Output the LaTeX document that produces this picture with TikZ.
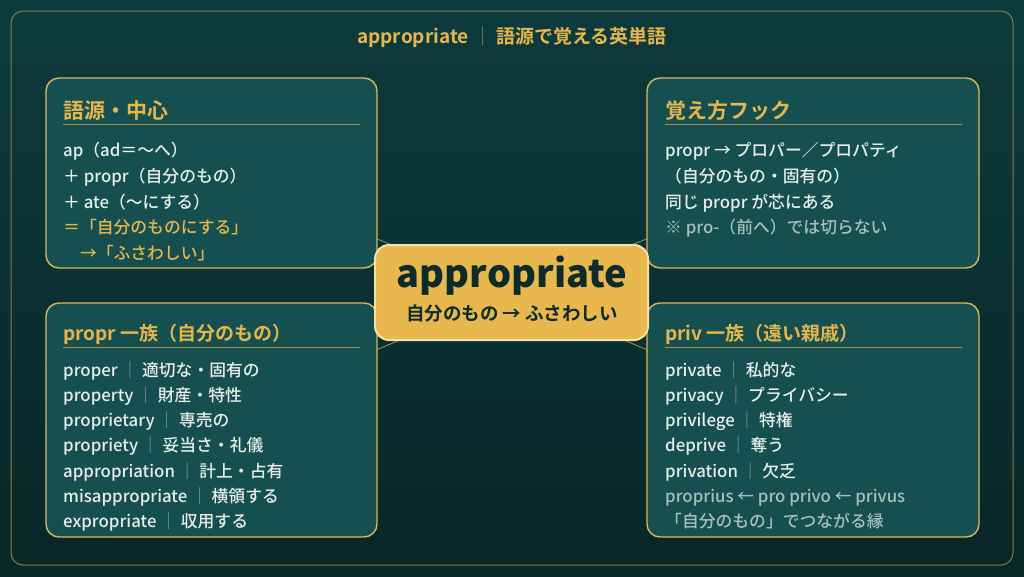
\documentclass[tikz,border=0pt]{standalone}
\usepackage{fontspec}
\setmainfont{Noto Sans CJK JP}[UprightFont={* Medium}, BoldFont={* Bold}]
\newfontfamily\blackfont{Noto Sans CJK JP Black}
\definecolor{bgtop}{HTML}{0D3B3D}
\definecolor{bgbot}{HTML}{092628}
\definecolor{boxfill}{HTML}{164F50}
\definecolor{gold}{HTML}{E6B64C}
\definecolor{goldline}{HTML}{A48F4F}
\definecolor{framecol}{HTML}{8C7B48}
\definecolor{boxborder}{HTML}{D9B75C}
\definecolor{textw}{HTML}{E8EEE9}
\definecolor{faded}{HTML}{A8C0BB}
\definecolor{sepcol}{HTML}{7F9A96}
\definecolor{cfill}{HTML}{E8B74D}
\definecolor{cborder}{HTML}{F5E2A8}
\definecolor{ctext}{HTML}{0E2B2B}
\newcommand{\sepbar}{\textcolor{sepcol}{｜}}
\begin{document}
\begin{tikzpicture}[x=1pt,y=-1pt,
  panel/.style={draw=boxborder, line width=1.4pt, fill=boxfill, rounded corners=13pt},
  headtxt/.style={anchor=base west, inner sep=0pt, text=gold, font=\fontsize{21}{21}\selectfont\bfseries},
  headsmall/.style={headtxt, font=\fontsize{19}{19}\selectfont\bfseries},
  bodytxt/.style={anchor=base west, inner sep=0pt, text=textw, font=\fontsize{16.8}{16.8}\selectfont},
  goldtxt/.style={bodytxt, text=gold},
  fadetxt/.style={bodytxt, text=faded},
  hrule/.style={draw=goldline, line width=0.8pt},
  conn/.style={draw=goldline, line width=0.8pt}
]
\useasboundingbox (0,0) rectangle (1024,576);
\shade[top color=bgtop, bottom color=bgbot] (0,0) rectangle (1024,576);
\draw[framecol, line width=1pt, rounded corners=12pt] (11,11) rectangle (1013,565);

% title
\node[anchor=base, inner sep=0pt, text=gold, font=\fontsize{19}{19}\selectfont\bfseries] (title) at (512,43)
  {appropriate \textcolor{framecol}{\mdseries｜} 語源で覚える英単語};

% connector end points
\coordinate (ctr) at (511.5,292.5);
\coordinate (tlc) at (211.5,173);
\coordinate (trc) at (813,173);
\coordinate (blc) at (211.5,420);
\coordinate (brc) at (813,420);
\draw[conn] (ctr) -- (tlc);
\draw[conn] (ctr) -- (trc);
\draw[conn] (ctr) -- (blc);
\draw[conn] (ctr) -- (brc);

% panels
\draw[panel] (46,78) rectangle (377,268);
\draw[panel] (647,78) rectangle (979,268);
\draw[panel] (46,303) rectangle (377,537);
\draw[panel] (647,303) rectangle (979,537);

% top-left
\node[headtxt] (h1) at (63,118) {語源・中心};
\draw[hrule] (63,124.5) -- (360,124.5);
\node[bodytxt] (a1) at (63,156) {ap（ad＝〜へ）};
\node[bodytxt] (a2) at (63,182) {＋ propr（自分のもの）};
\node[bodytxt] (a3) at (63,208) {＋ ate（〜にする）};
\node[goldtxt] (a4) at (63,233.5) {＝「自分のものにする」};
\node[goldtxt] (a5) at (63,259) {　→「ふさわしい」};

% top-right
\node[headtxt] (h2) at (665,118) {覚え方フック};
\draw[hrule] (665,124.5) -- (962,124.5);
\node[bodytxt] (b1) at (665,156) {propr → プロパー／プロパティ};
\node[bodytxt] (b2) at (665,182) {（自分のもの・固有の）};
\node[bodytxt] (b3) at (665,208) {同じ propr が芯にある};
\node[fadetxt] (b4) at (665,233.5) {※ pro-（前へ）では切らない};

% bottom-left
\node[headsmall] (h3) at (63,340) {propr 一族（自分のもの）};
\draw[hrule] (63,347) -- (360,347);
\node[bodytxt] (c1) at (63,376) {proper \sepbar{} 適切な・固有の};
\node[bodytxt] (c2) at (63,401.3) {property \sepbar{} 財産・特性};
\node[bodytxt] (c3) at (63,426.6) {proprietary \sepbar{} 専売の};
\node[bodytxt] (c4) at (63,451.9) {propriety \sepbar{} 妥当さ・礼儀};
\node[bodytxt] (c5) at (63,477.2) {appropriation \sepbar{} 計上・占有};
\node[bodytxt] (c6) at (63,502.5) {misappropriate \sepbar{} 横領する};
\node[bodytxt] (c7) at (63,527.8) {expropriate \sepbar{} 収用する};

% bottom-right
\node[headsmall] (h4) at (665,340) {priv 一族（遠い親戚）};
\draw[hrule] (665,347) -- (962,347);
\node[bodytxt] (d1) at (665,376) {private \sepbar{} 私的な};
\node[bodytxt] (d2) at (665,401.3) {privacy \sepbar{} プライバシー};
\node[bodytxt] (d3) at (665,426.6) {privilege \sepbar{} 特権};
\node[bodytxt] (d4) at (665,451.9) {deprive \sepbar{} 奪う};
\node[bodytxt] (d5) at (665,477.2) {privation \sepbar{} 欠乏};
\node[fadetxt] (d6) at (665,502.5) {proprius ← pro privo ← privus};
\node[fadetxt] (d7) at (665,527.8) {「自分のもの」でつながる縁};

% center
\draw[fill=cfill, draw=cborder, line width=2pt, rounded corners=14pt] (375,245) rectangle (648,340);
\node[anchor=base, inner sep=0pt, text=ctext, font=\fontsize{38}{38}\blackfont] (cw) at (512,287) {appropriate};
\node[anchor=base, inner sep=0pt, text=ctext, font=\fontsize{18.5}{18.5}\selectfont\bfseries] (cs) at (512,320) {自分のもの → ふさわしい};
\end{tikzpicture}
\end{document}
